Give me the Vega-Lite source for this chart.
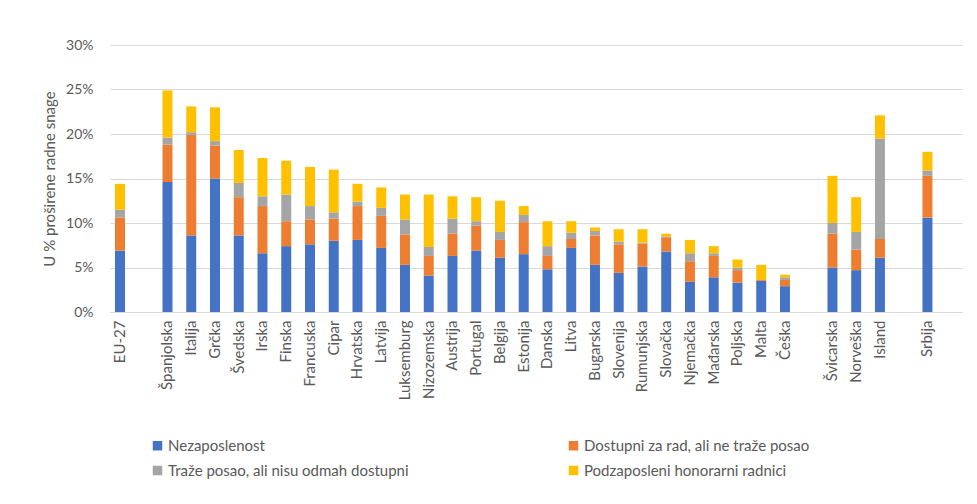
{
  "$schema": "https://vega.github.io/schema/vega-lite/v6.json",
  "autosize": "none",
  "width": 852,
  "height": 267,
  "padding": {"left": 110, "top": 45, "right": 15, "bottom": 192},
  "background": "white",
  "config": {
    "font": "Lato",
    "view": {"stroke": null}
  },
  "datasets": {
    "series": [
      {"k": 1, "serija": "Nezaposlenost"},
      {"k": 2, "serija": "Dostupni za rad, ali ne traže posao"},
      {"k": 3, "serija": "Traže posao, ali nisu odmah dostupni"},
      {"k": 4, "serija": "Podzaposleni honorarni radnici"}
    ]
  },
  "data": {
    "values": [
      {"c": "EU-27", "k": 1, "v": 6.9}, {"c": "EU-27", "k": 2, "v": 3.7}, {"c": "EU-27", "k": 3, "v": 0.9}, {"c": "EU-27", "k": 4, "v": 2.9},
      {"c": "Španjolska", "k": 1, "v": 14.6}, {"c": "Španjolska", "k": 2, "v": 4.2}, {"c": "Španjolska", "k": 3, "v": 0.8}, {"c": "Španjolska", "k": 4, "v": 5.3},
      {"c": "Italija", "k": 1, "v": 8.6}, {"c": "Italija", "k": 2, "v": 11.3}, {"c": "Italija", "k": 3, "v": 0.3}, {"c": "Italija", "k": 4, "v": 2.9},
      {"c": "Grčka", "k": 1, "v": 15.0}, {"c": "Grčka", "k": 2, "v": 3.7}, {"c": "Grčka", "k": 3, "v": 0.5}, {"c": "Grčka", "k": 4, "v": 3.8},
      {"c": "Švedska", "k": 1, "v": 8.6}, {"c": "Švedska", "k": 2, "v": 4.3}, {"c": "Švedska", "k": 3, "v": 1.6}, {"c": "Švedska", "k": 4, "v": 3.7},
      {"c": "Irska", "k": 1, "v": 6.6}, {"c": "Irska", "k": 2, "v": 5.3}, {"c": "Irska", "k": 3, "v": 1.1}, {"c": "Irska", "k": 4, "v": 4.3},
      {"c": "Finska", "k": 1, "v": 7.4}, {"c": "Finska", "k": 2, "v": 2.8}, {"c": "Finska", "k": 3, "v": 3.0}, {"c": "Finska", "k": 4, "v": 3.8},
      {"c": "Francuska", "k": 1, "v": 7.6}, {"c": "Francuska", "k": 2, "v": 2.8}, {"c": "Francuska", "k": 3, "v": 1.5}, {"c": "Francuska", "k": 4, "v": 4.4},
      {"c": "Cipar", "k": 1, "v": 8.0}, {"c": "Cipar", "k": 2, "v": 2.5}, {"c": "Cipar", "k": 3, "v": 0.7}, {"c": "Cipar", "k": 4, "v": 4.8},
      {"c": "Hrvatska", "k": 1, "v": 8.1}, {"c": "Hrvatska", "k": 2, "v": 3.8}, {"c": "Hrvatska", "k": 3, "v": 0.5}, {"c": "Hrvatska", "k": 4, "v": 2.0},
      {"c": "Latvija", "k": 1, "v": 7.2}, {"c": "Latvija", "k": 2, "v": 3.6}, {"c": "Latvija", "k": 3, "v": 0.9}, {"c": "Latvija", "k": 4, "v": 2.3},
      {"c": "Luksemburg", "k": 1, "v": 5.3}, {"c": "Luksemburg", "k": 2, "v": 3.4}, {"c": "Luksemburg", "k": 3, "v": 1.7}, {"c": "Luksemburg", "k": 4, "v": 2.8},
      {"c": "Nizozemska", "k": 1, "v": 4.1}, {"c": "Nizozemska", "k": 2, "v": 2.2}, {"c": "Nizozemska", "k": 3, "v": 1.0}, {"c": "Nizozemska", "k": 4, "v": 5.9},
      {"c": "Austrija", "k": 1, "v": 6.3}, {"c": "Austrija", "k": 2, "v": 2.5}, {"c": "Austrija", "k": 3, "v": 1.7}, {"c": "Austrija", "k": 4, "v": 2.5},
      {"c": "Portugal", "k": 1, "v": 6.9}, {"c": "Portugal", "k": 2, "v": 2.8}, {"c": "Portugal", "k": 3, "v": 0.5}, {"c": "Portugal", "k": 4, "v": 2.7},
      {"c": "Belgija", "k": 1, "v": 6.1}, {"c": "Belgija", "k": 2, "v": 2.0}, {"c": "Belgija", "k": 3, "v": 0.9}, {"c": "Belgija", "k": 4, "v": 3.5},
      {"c": "Estonija", "k": 1, "v": 6.5}, {"c": "Estonija", "k": 2, "v": 3.6}, {"c": "Estonija", "k": 3, "v": 0.8}, {"c": "Estonija", "k": 4, "v": 1.0},
      {"c": "Danska", "k": 1, "v": 4.8}, {"c": "Danska", "k": 2, "v": 1.5}, {"c": "Danska", "k": 3, "v": 1.1}, {"c": "Danska", "k": 4, "v": 2.8},
      {"c": "Litva", "k": 1, "v": 7.2}, {"c": "Litva", "k": 2, "v": 1.0}, {"c": "Litva", "k": 3, "v": 0.7}, {"c": "Litva", "k": 4, "v": 1.3},
      {"c": "Bugarska", "k": 1, "v": 5.3}, {"c": "Bugarska", "k": 2, "v": 3.3}, {"c": "Bugarska", "k": 3, "v": 0.5}, {"c": "Bugarska", "k": 4, "v": 0.4},
      {"c": "Slovenija", "k": 1, "v": 4.4}, {"c": "Slovenija", "k": 2, "v": 3.2}, {"c": "Slovenija", "k": 3, "v": 0.3}, {"c": "Slovenija", "k": 4, "v": 1.4},
      {"c": "Rumunjska", "k": 1, "v": 5.1}, {"c": "Rumunjska", "k": 2, "v": 2.6}, {"c": "Rumunjska", "k": 3, "v": 0.1}, {"c": "Rumunjska", "k": 4, "v": 1.5},
      {"c": "Slovačka", "k": 1, "v": 6.8}, {"c": "Slovačka", "k": 2, "v": 1.6}, {"c": "Slovačka", "k": 3, "v": 0.1}, {"c": "Slovačka", "k": 4, "v": 0.3},
      {"c": "Njemačka", "k": 1, "v": 3.4}, {"c": "Njemačka", "k": 2, "v": 2.3}, {"c": "Njemačka", "k": 3, "v": 0.9}, {"c": "Njemačka", "k": 4, "v": 1.5},
      {"c": "Mađarska", "k": 1, "v": 3.9}, {"c": "Mađarska", "k": 2, "v": 2.4}, {"c": "Mađarska", "k": 3, "v": 0.3}, {"c": "Mađarska", "k": 4, "v": 0.8},
      {"c": "Poljska", "k": 1, "v": 3.3}, {"c": "Poljska", "k": 2, "v": 1.4}, {"c": "Poljska", "k": 3, "v": 0.3}, {"c": "Poljska", "k": 4, "v": 0.9},
      {"c": "Malta", "k": 1, "v": 3.5}, {"c": "Malta", "k": 2, "v": 0.1}, {"c": "Malta", "k": 3, "v": 0.0}, {"c": "Malta", "k": 4, "v": 1.7},
      {"c": "Češka", "k": 1, "v": 2.9}, {"c": "Češka", "k": 2, "v": 0.7}, {"c": "Češka", "k": 3, "v": 0.3}, {"c": "Češka", "k": 4, "v": 0.3},
      {"c": "Švicarska", "k": 1, "v": 5.0}, {"c": "Švicarska", "k": 2, "v": 3.8}, {"c": "Švicarska", "k": 3, "v": 1.2}, {"c": "Švicarska", "k": 4, "v": 5.3},
      {"c": "Norveška", "k": 1, "v": 4.7}, {"c": "Norveška", "k": 2, "v": 2.3}, {"c": "Norveška", "k": 3, "v": 2.0}, {"c": "Norveška", "k": 4, "v": 3.9},
      {"c": "Island", "k": 1, "v": 6.1}, {"c": "Island", "k": 2, "v": 2.1}, {"c": "Island", "k": 3, "v": 11.3}, {"c": "Island", "k": 4, "v": 2.6},
      {"c": "Srbija", "k": 1, "v": 10.6}, {"c": "Srbija", "k": 2, "v": 4.7}, {"c": "Srbija", "k": 3, "v": 0.6}, {"c": "Srbija", "k": 4, "v": 2.1}
    ]
  },
  "transform": [
    {"lookup": "k", "from": {"data": {"name": "series"}, "key": "k", "fields": ["serija"]}}
  ],
  "mark": {"type": "bar"},
  "encoding": {
    "x": {
      "field": "c",
      "type": "nominal",
      "sort": null,
      "scale": {
        "domain": ["EU-27", " ", "Španjolska", "Italija", "Grčka", "Švedska", "Irska", "Finska", "Francuska", "Cipar", "Hrvatska", "Latvija", "Luksemburg", "Nizozemska", "Austrija", "Portugal", "Belgija", "Estonija", "Danska", "Litva", "Bugarska", "Slovenija", "Rumunjska", "Slovačka", "Njemačka", "Mađarska", "Poljska", "Malta", "Češka", "  ", "Švicarska", "Norveška", "Island", "   ", "Srbija"],
        "paddingInner": 0.58,
        "paddingOuter": 0.728,
        "align": 0.145
      },
      "axis": {
        "title": null,
        "labelAngle": -90,
        "labelAlign": "right",
        "labelBaseline": "middle",
        "labelPadding": 8,
        "labelFontSize": 15,
        "labelColor": "#595959",
        "ticks": false,
        "domainColor": "#d9d9d9",
        "domainWidth": 1,
        "grid": false
      }
    },
    "y": {
      "field": "v",
      "type": "quantitative",
      "stack": "zero",
      "scale": {"domain": [0, 30], "nice": false},
      "axis": {
        "title": "U % proširene radne snage",
        "titleFontSize": 15,
        "titleFontWeight": "normal",
        "titleColor": "#595959",
        "titlePadding": 8,
        "values": [0, 5, 10, 15, 20, 25, 30],
        "labelExpr": "datum.value + '%'",
        "labelFontSize": 14,
        "labelColor": "#595959",
        "labelPadding": 17,
        "ticks": false,
        "domain": false,
        "gridColor": "#d9d9d9",
        "gridWidth": 1
      }
    },
    "color": {
      "field": "serija",
      "type": "nominal",
      "scale": {
        "domain": ["Nezaposlenost", "Traže posao, ali nisu odmah dostupni", "Dostupni za rad, ali ne traže posao", "Podzaposleni honorarni radnici"],
        "range": ["#4472C4", "#A5A5A5", "#ED7D31", "#FFC000"]
      },
      "legend": {
        "title": null,
        "orient": "none",
        "legendX": 40,
        "legendY": 393,
        "columns": 2,
        "columnPadding": 157,
        "rowPadding": 9,
        "symbolType": "square",
        "symbolSize": 90,
        "symbolStrokeWidth": 0,
        "labelFontSize": 15,
        "labelColor": "#595959",
        "labelOffset": 3,
        "labelLimit": 400,
        "padding": 0
      }
    },
    "order": {"field": "k", "type": "quantitative"}
  }
}
